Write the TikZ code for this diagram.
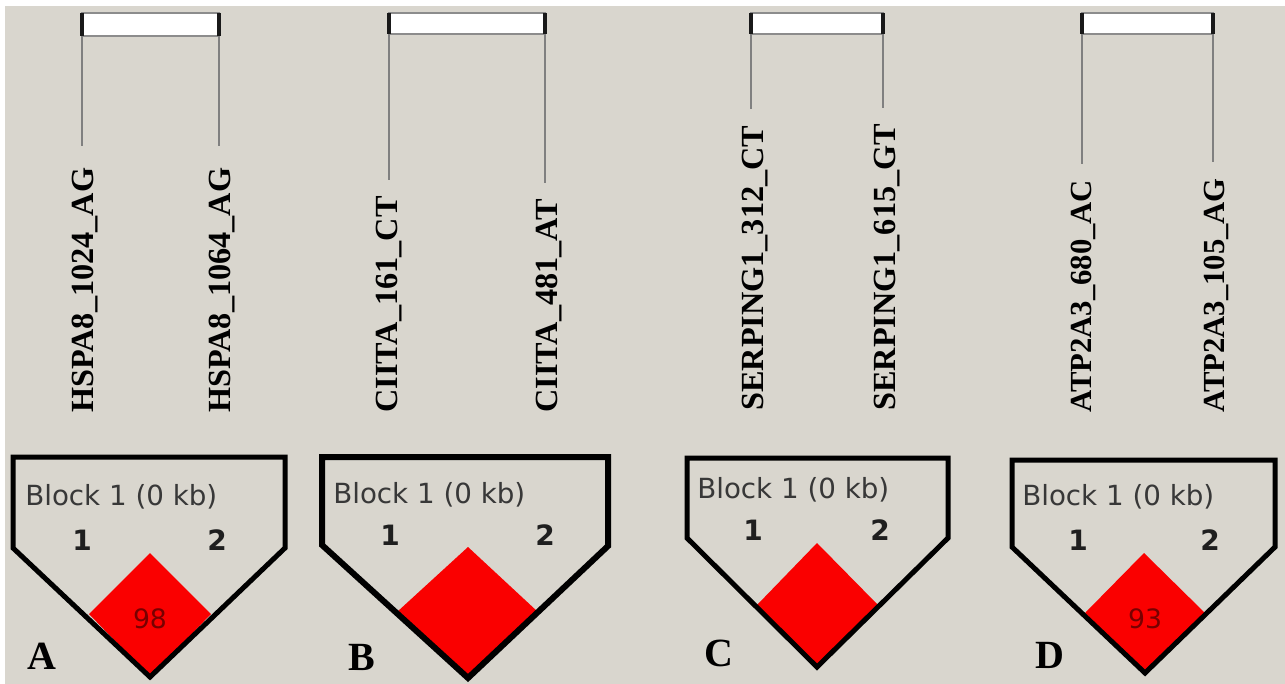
\documentclass[tikz,border=0pt]{standalone}
\usepackage{fontspec}
\setmainfont{Liberation Serif}
\newfontfamily\blockfont{DejaVu Sans}
\newfontfamily\numfont{DejaVu Sans}
\definecolor{bg}{RGB}{217,214,206}
\definecolor{ldtext}{RGB}{120,0,0}
\definecolor{ldred}{RGB}{250,0,0}
\begin{document}
\begin{tikzpicture}[x=0.75pt,y=-0.75pt,
  snpbox/.style={draw=black!45, fill=white, line width=1.5pt, inner sep=0pt, outer sep=0pt},
  sideedge/.style={draw=black!90, line width=3pt},
  snp/.style={rotate=90, anchor=west, inner sep=0pt, font=\bfseries\fontsize{24.2}{24.2}\selectfont},
  snpsmall/.style={snp, font=\bfseries\fontsize{23}{23}\selectfont},
  tick/.style={draw=black!50, line width=1.5pt, shorten >=12pt},
  blockline/.style={draw=black, line width=3.75pt, line join=miter},
  ld/.style={fill=ldred},
  blocktxt/.style={anchor=base west, inner sep=0pt, text=black!78, font=\blockfont\fontsize{20.8}{20.8}\selectfont},
  hap/.style={inner sep=0pt, text=black!88, font=\numfont\bfseries\fontsize{21}{21}\selectfont},
  ldval/.style={inner sep=0pt, text=ldtext, font=\numfont\fontsize{20}{20}\selectfont},
  panel/.style={anchor=base west, inner sep=0pt, font=\bfseries\fontsize{30}{30}\selectfont}
]
\useasboundingbox (0,0) rectangle (1285,684);
\fill[white] (0,0) rectangle (1285,684);
\fill[bg] (5,6) rectangle (1285,684);

% ---------- Panel A ----------
\node[snpbox, minimum width=137*0.75pt, minimum height=23*0.75pt] (rA) at (150.5,24.5) {};
\draw[sideedge] (rA.north west) -- (rA.south west);
\draw[sideedge] (rA.north east) -- (rA.south east);
\node[snp] (lA1) at (85,413) {HSPA8\_1024\_AG};
\node[snp] (lA2) at (222,413) {HSPA8\_1064\_AG};
\draw[tick, shorten >=15.75pt] (rA.south west) -- (rA.south west |- lA1.east);
\draw[tick, shorten >=15.75pt] (rA.south east) -- (rA.south east |- lA2.east);
\fill[ld] (150,553) -- (211,614) -- (150,677) -- (89,614) -- cycle;
\draw[blockline] (13,457) -- (285,457) -- (285,548) -- (150,677) -- (13,548) -- cycle;
\node[blocktxt] (bA) at (25,505) {Block 1 (0 kb)};
\node[hap] (hA1) at (82,540) {1};
\node[hap] (hA2) at (217,540) {2};
\node[ldval] (vA) at (150,619) {98};
\node[panel] (pA) at (27,669) {A};

% ---------- Panel B ----------
\node[snpbox, minimum width=156*0.75pt, minimum height=21*0.75pt] (rB) at (467,23.5) {};
\draw[sideedge] (rB.north west) -- (rB.south west);
\draw[sideedge] (rB.north east) -- (rB.south east);
\node[snp] (lB1) at (389,413) {CIITA\_161\_CT};
\node[snp] (lB2) at (549,413) {CIITA\_481\_AT};
\draw[tick] (rB.south west) -- (rB.south west |- lB1.east);
\draw[tick] (rB.south east) -- (rB.south east |- lB2.east);
\fill[ld] (468,547) -- (538,612) -- (468,678) -- (397,612) -- cycle;
\draw[blockline, line width=4.5pt] (322,457) -- (608,457) -- (608,546) -- (468,678) -- (322,545) -- cycle;
\node[blocktxt] (bB) at (333,503) {Block 1 (0 kb)};
\node[hap] (hB1) at (390,535) {1};
\node[hap] (hB2) at (545,535) {2};
\node[panel] (pB) at (348,670) {B};

% ---------- Panel C ----------
\node[snpbox, minimum width=132*0.75pt, minimum height=21*0.75pt] (rC) at (817,23.5) {};
\draw[sideedge] (rC.north west) -- (rC.south west);
\draw[sideedge] (rC.north east) -- (rC.south east);
\node[snp] (lC1) at (755,411) {SERPING1\_312\_CT};
\node[snp] (lC2) at (887,411) {SERPING1\_615\_GT};
\draw[tick] (rC.south west) -- (rC.south west |- lC1.east);
\draw[tick] (rC.south east) -- (rC.south east |- lC2.east);
\fill[ld] (817,543) -- (878,605) -- (817,667) -- (757,605) -- cycle;
\draw[blockline] (687,458) -- (948,458) -- (948,538) -- (817,667) -- (687,538) -- cycle;
\node[blocktxt] (bC) at (697,498) {Block 1 (0 kb)};
\node[hap] (hC1) at (753,530) {1};
\node[hap] (hC2) at (880,530) {2};
\node[panel] (pC) at (704,666) {C};

% ---------- Panel D ----------
\node[snpbox, minimum width=131*0.75pt, minimum height=21*0.75pt] (rD) at (1147.5,23.5) {};
\draw[sideedge] (rD.north west) -- (rD.south west);
\draw[sideedge] (rD.north east) -- (rD.south east);
\node[snpsmall] (lD1) at (1083,413) {ATP2A3\_680\_AC};
\node[snpsmall] (lD2) at (1216,413) {ATP2A3\_105\_AG};
\draw[tick] (rD.south west) -- (rD.south west |- lD1.east);
\draw[tick] (rD.south east) -- (rD.south east |- lD2.east);
\fill[ld] (1144,553) -- (1205,613) -- (1145,673) -- (1085,613) -- cycle;
\draw[blockline] (1012,460) -- (1275,460) -- (1275,547) -- (1145,673) -- (1012,547) -- cycle;
\node[blocktxt] (bD) at (1022,505) {Block 1 (0 kb)};
\node[hap] (hD1) at (1078,540) {1};
\node[hap] (hD2) at (1210,540) {2};
\node[ldval] (vD) at (1145,619) {93};
\node[panel] (pD) at (1035,668) {D};
\end{tikzpicture}
\end{document}
